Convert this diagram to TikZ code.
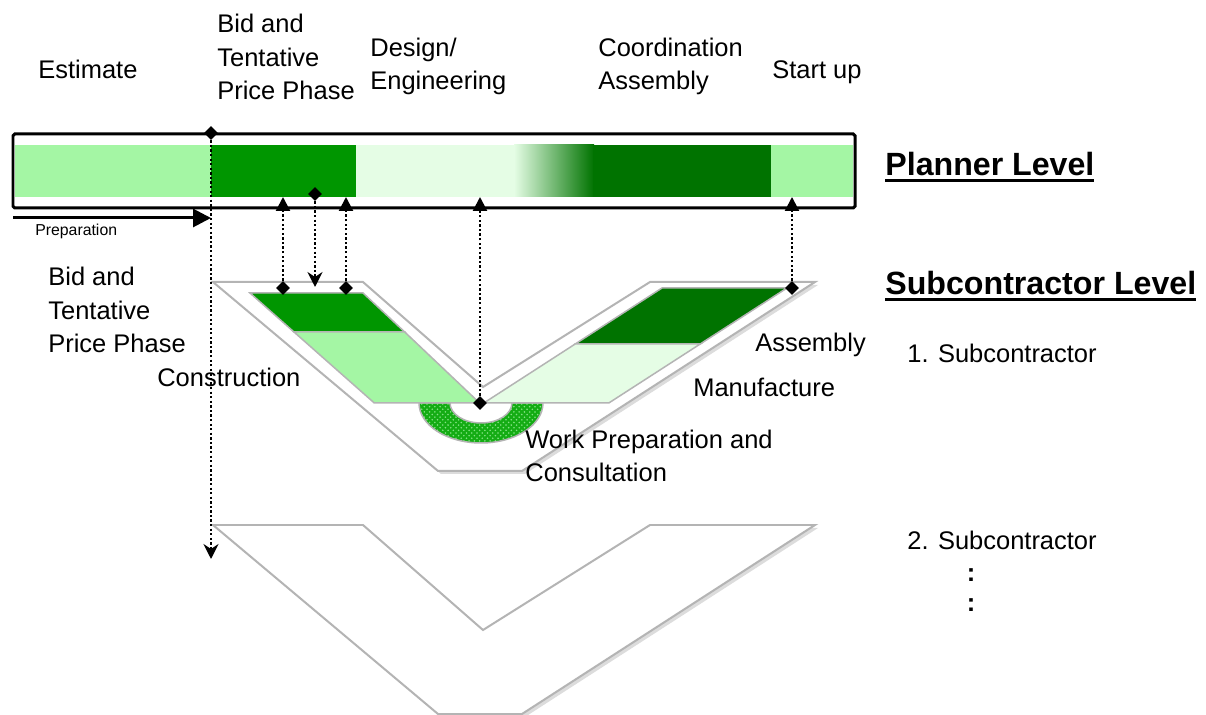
\documentclass[tikz,border=0pt]{standalone}
\usepackage{fontspec}
\setmainfont{Liberation Sans}
\usepackage{xcolor}
\usetikzlibrary{arrows.meta, shapes.geometric, patterns}

\definecolor{lightg}{RGB}{164,246,164}
\definecolor{midg}{RGB}{0,150,0}
\definecolor{paleg}{RGB}{229,253,229}
\definecolor{darkg}{RGB}{0,115,0}
\definecolor{ringg}{RGB}{20,172,20}
\definecolor{ringdot}{RGB}{130,225,130}
\definecolor{frame}{RGB}{180,180,180}
\definecolor{shadowg}{RGB}{220,220,220}

\newcommand{\lvlul}[1]{\setbox0\hbox{#1}\leavevmode\rlap{\rule[-0.12cm]{\wd0}{0.06cm}}\box0}

\tikzset{
	lbl/.style={inner sep=0, anchor=base west, align=left, font=\fontsize{14.5}{19.3}\selectfont},
	lvl/.style={inner sep=0, anchor=base west, font=\fontsize{18.3}{22}\selectfont\bfseries},
	dmd/.style={diamond, fill=black, inner sep=0, minimum width=0.28cm, minimum height=0.28cm},
	link/.style={line width=1.3pt, dash pattern=on 1.3pt off 1.3pt},
	linkup/.style={link, -{Triangle[width=0.28cm, length=0.28cm]}},
	linkdown/.style={link, -{Stealth[width=0.3cm, length=0.3cm, inset=0.1cm]}},
	strip/.style={draw=frame, line width=0.03cm}
}

\begin{document}
\begin{tikzpicture}[x=0.02cm, y=-0.02cm]
			\useasboundingbox (0,0) rectangle (1206,715);
			
			%planner bar
			\fill[lightg] (15,145) rectangle (211,197);
			\fill[midg] (211,145) rectangle (356,197);
			\fill[paleg] (356,145) rectangle (515,197);
			\shade[left color=paleg, right color=darkg] (514,145) rectangle (594,197);
			\fill[darkg] (593,145) rectangle (771,197);
			\fill[lightg] (771,145) rectangle (853,197);
			\draw[line width=0.06cm, rounded corners=1pt] (13,134) rectangle (855,208);
			
			%preparation arrow
			\coordinate (prep0) at (13,218);
			\coordinate (prep1) at (211,218);
			\draw[line width=0.06cm, -{Triangle[width=0.36cm, length=0.36cm]}] (prep0) -- (prep1);
			
			%subcontractor v shapes
			\foreach \dy in {0,243}{
				\fill[shadowg, shift={(3,3+\dy)}] (213,282) -- (363,282) -- (483,387) -- (650,282) -- (815,282) -- (522,471) -- (438,471) -- cycle;
				\draw[frame, line width=0.04cm, fill=white, shift={(0,\dy)}] (213,282) -- (363,282) -- (483,387) -- (650,282) -- (815,282) -- (522,471) -- (438,471) -- cycle;
			}
			
			%work preparation ring
			\draw[strip, preaction={fill=ringg}, pattern=crosshatch dots, pattern color=ringdot] (419,403) arc[start angle=180, end angle=360, x radius=1.24cm, y radius=0.8cm] -- (512,403) arc[start angle=0, end angle=-180, x radius=0.62cm, y radius=0.4cm] -- cycle;
			
			%phases of 1. subcontractor
			\filldraw[strip, fill=midg] (250,293) -- (363,293) -- (404.7,332) -- (294,332) -- cycle;
			\filldraw[strip, fill=lightg] (294,332) -- (404.7,332) -- (479.6,403) -- (374.3,403) -- cycle;
			\filldraw[strip, fill=darkg] (662,288) -- (787,288) -- (700.2,344) -- (575.2,344) -- cycle;
			\filldraw[strip, fill=paleg] (575.2,344) -- (700.2,344) -- (608.8,403) -- (483.8,403) -- cycle;
			
			%links between levels
			\node[dmd] (p0) at (211,133) {};
			\coordinate (s0) at (211,559);
			\draw[linkdown] (p0) -- (s0);
			
			\node[dmd] (d1) at (283,288) {};
			\node[dmd] (d2) at (315,194) {};
			\node[dmd] (d3) at (346,288) {};
			\node[dmd] (d4) at (480,403) {};
			\node[dmd] (d5) at (792,288) {};
			\coordinate (t1) at (283,197);
			\coordinate (t2) at (315,287);
			\coordinate (t3) at (346,197);
			\coordinate (t4) at (480,197);
			\coordinate (t5) at (792,197);
			\draw[linkup] (d1) -- (t1);
			\draw[linkdown] (d2) -- (t2);
			\draw[linkup] (d3) -- (t3);
			\draw[linkup] (d4) -- (t4);
			\draw[linkup] (d5) -- (t5);
			
			%phase labels (multi-line ones sit on their last baseline)
			\node[lbl] (est) at (38,79) {Estimate};
			\node[lbl] (bidtop) at (217,100) {Bid and\\Tentative\\Price Phase};
			\node[lbl] (design) at (370,90) {Design/\\Engineering};
			\node[lbl] (coord) at (598,90) {Coordination\\Assembly};
			\node[lbl] (start) at (772,79) {Start up};
			\node[lbl, font=\fontsize{9}{11}\selectfont] (prep) at (35,236) {Preparation};
			
			\node[lbl] (bidsub) at (48,353) {Bid and\\Tentative\\Price Phase};
			\node[lbl] (constr) at (157,387) {Construction};
			\node[lbl] (assem) at (755,352) {Assembly};
			\node[lbl] (manu) at (693,397) {Manufacture};
			\node[lbl] (workprep) at (525,482) {Work Preparation and\\Consultation};
			
			%levels
			\node[lvl] (planner) at (885,176) {\lvlul{Planner Level}};
			\node[lvl] (sublevel) at (885,295) {\lvlul{Subcontractor Level}};
			\node[lbl] (sub1) at (907,363) {1. Subcontractor};
			\node[lbl] (sub2) at (907,549) {2. Subcontractor};
			\node[lbl, anchor=center, font=\fontsize{14.5}{19.3}\selectfont\bfseries] (more1) at (971,575) {:};
			\node[lbl, anchor=center, font=\fontsize{14.5}{19.3}\selectfont\bfseries] (more2) at (971,605) {:};
		\end{tikzpicture}
\end{document}
